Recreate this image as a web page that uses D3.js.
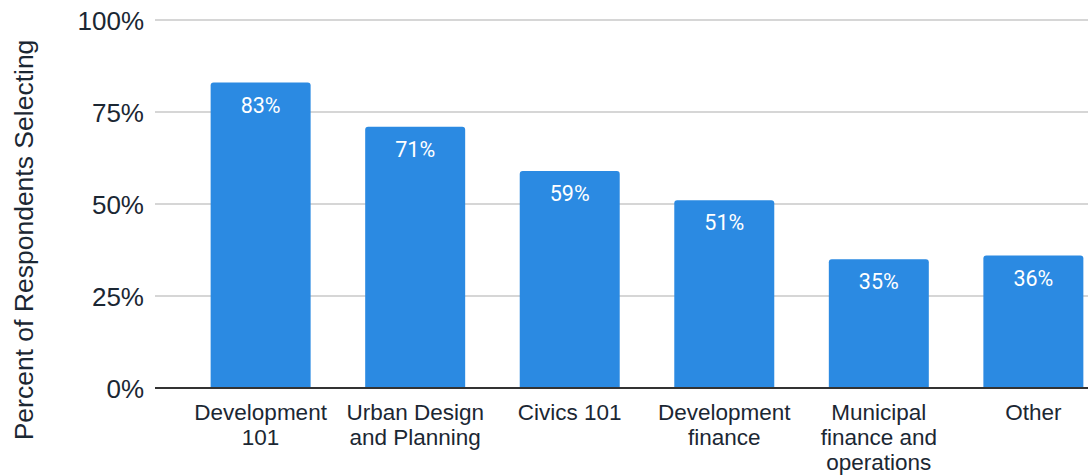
<!DOCTYPE html>
<html>
<head>
<meta charset="utf-8">
<script src="https://cdn.jsdelivr.net/npm/d3@7"></script>
<style>
  body { margin: 0; background: #fff; }
  svg { display: block; }
</style>
</head>
<body>
<svg id="chart" width="1088" height="476"></svg>
<script>
var categories = [["Development", "101"], ["Urban Design", "and Planning"], ["Civics 101"], ["Development", "finance"], ["Municipal", "finance and", "operations"], ["Other"]];
var values = [83, 71, 59, 51, 35, 36];
var tickValues = [0, 25, 50, 75, 100];

var svg = d3.select('#chart');
var textColor = '#1b2733';

var plot = {l: 155, t: 20, b: 388, r: 1139};

var x = d3.scaleBand()
  .domain(d3.range(values.length))
  .range([plot.l, plot.r])
  .paddingInner(0.353)
  .paddingOuter(0.36);

var y = d3.scaleLinear().domain([0, 100]).range([plot.b, plot.t]);

// gridlines
svg.append('g').selectAll('line')
  .data(tickValues.filter(function(d){ return d > 0; }))
  .enter().append('line')
  .attr('x1', plot.l).attr('x2', 1088)
  .attr('y1', function(d){ return y(d); }).attr('y2', function(d){ return y(d); })
  .attr('stroke', '#c8c8c8').attr('stroke-width', 1.5);

// y axis tick labels
var yAxis = d3.axisLeft(y).tickValues(tickValues).tickSize(0).tickPadding(0)
  .tickFormat(function(d){ return d + '%'; });
var ya = svg.append('g').attr('transform', 'translate(144,0)').call(yAxis);
ya.select('.domain').remove();
ya.selectAll('text')
  .attr('font-family', 'Liberation Sans, Arial, sans-serif')
  .attr('font-size', 26).attr('fill', textColor).attr('dy', '0.35em');

// bars with rounded tops
function barPath(x0, y0, w, h, r) {
  return 'M' + x0 + ',' + (y0 + h) +
    'V' + (y0 + r) + 'Q' + x0 + ',' + y0 + ' ' + (x0 + r) + ',' + y0 +
    'H' + (x0 + w - r) + 'Q' + (x0 + w) + ',' + y0 + ' ' + (x0 + w) + ',' + (y0 + r) +
    'V' + (y0 + h) + 'Z';
}
svg.append('g').selectAll('path')
  .data(values)
  .enter().append('path')
  .attr('d', function(d, i){ return barPath(x(i), y(d), x.bandwidth(), y(0) - y(d), 3); })
  .attr('fill', '#2b8ae2');

// value labels
svg.append('g').selectAll('text')
  .data(values)
  .enter().append('text')
  .attr('x', function(d, i){ return x(i) + x.bandwidth() / 2; })
  .attr('y', function(d){ return y(d) + 30; })
  .attr('text-anchor', 'middle')
  .attr('font-family', 'Roboto, sans-serif')
  .attr('font-size', 21.5).attr('fill', '#fff')
  .text(function(d){ return d + '%'; });

// baseline
svg.append('line')
  .attr('x1', plot.l).attr('x2', 1088)
  .attr('y1', y(0)).attr('y2', y(0))
  .attr('stroke', '#333').attr('stroke-width', 2);

// category labels
var cat = svg.append('g').selectAll('text')
  .data(categories)
  .enter().append('text')
  .attr('x', function(d, i){ return x(i) + x.bandwidth() / 2; })
  .attr('y', y(0) + 32)
  .attr('text-anchor', 'middle')
  .attr('font-family', 'Liberation Sans, Arial, sans-serif')
  .attr('font-size', 22.5).attr('fill', textColor);
cat.selectAll('tspan')
  .data(function(d, i){ return d.map(function(s){ return {s: s, i: i}; }); })
  .enter().append('tspan')
  .attr('x', function(d){ return x(d.i) + x.bandwidth() / 2; })
  .attr('dy', function(d, j){ return j === 0 ? 0 : 25; })
  .text(function(d){ return d.s; });

// y axis title
svg.append('text')
  .attr('transform', 'translate(33,240) rotate(-90)')
  .attr('text-anchor', 'middle')
  .attr('font-family', 'Liberation Sans, Arial, sans-serif')
  .attr('font-size', 26.5).attr('fill', textColor)
  .text('Percent of Respondents Selecting');
</script>
</body>
</html>
